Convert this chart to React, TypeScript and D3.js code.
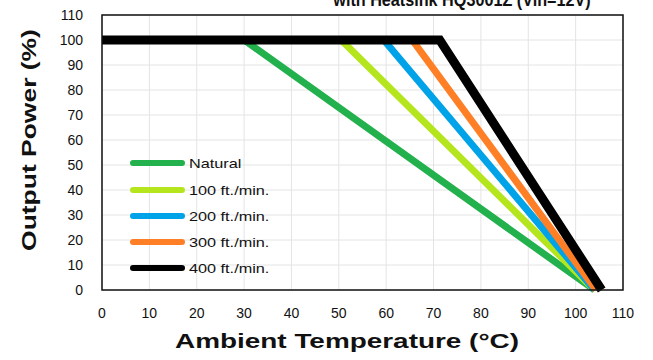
import React from "react";
import * as d3 from "d3";

const seriesNames = ["Natural", "100 ft./min.", "200 ft./min.", "300 ft./min.", "400 ft./min."];
const seriesColors = ["#22b14c", "#b5e61d", "#00a2e8", "#ff7f27", "#000000"];
// each series: [temperature, output power]
const naturalPts: [number, number][] = [[0, 100], [30, 100], [104, 0]];
const ft100Pts: [number, number][] = [[0, 100], [50.5, 100], [104, 0]];
const ft200Pts: [number, number][] = [[0, 100], [59.5, 100], [104, 0]];
const ft300Pts: [number, number][] = [[0, 100], [65.5, 100], [104.3, 0]];
const ft400Pts: [number, number][] = [[0, 100], [71.3, 100], [105.5, 0]];
const seriesData = [naturalPts, ft100Pts, ft200Pts, ft300Pts, ft400Pts];
const xTicks = [0, 10, 20, 30, 40, 50, 60, 70, 80, 90, 100, 110];
const yTicks = [0, 10, 20, 30, 40, 50, 60, 70, 80, 90, 100, 110];
const titleText = "with Heatsink HQ3001Z (Vin=12V)";
const xTitle = "Ambient Temperature (°C)";
const yTitle = "Output Power (%)";

export default function App() {
  const W = 653, H = 360;
  const left = 102, right = 623, top = 15, bottom = 290;
  const x = d3.scaleLinear().domain([0, 110]).range([left, right]);
  const y = d3.scaleLinear().domain([0, 110]).range([bottom, top]);
  const line = d3.line<[number, number]>().x(d => x(d[0])).y(d => y(d[1]));
  const font = "Arial, 'Liberation Sans', sans-serif";
  const widths = [7, 7, 7, 7, 9];
  const legendY = [163, 190, 216, 242, 268];
  return (
    <svg width={W} height={H} style={{ position: "absolute", left: 0, top: 0, background: "#fff" }} fontFamily={font}>
      <rect x={0} y={0} width={W} height={H} fill="#fff" />
      <text transform="translate(462,6) scale(0.9,1)" textAnchor="middle" fontSize={18} fontWeight="bold" fill="#111">{titleText}</text>
      {xTicks.map(t => (
        <line key={"gx" + t} x1={x(t)} x2={x(t)} y1={top} y2={bottom} stroke="#e4e4e4" strokeWidth={1} />
      ))}
      {yTicks.map(t => (
        <line key={"gy" + t} x1={left} x2={right} y1={y(t)} y2={y(t)} stroke="#e4e4e4" strokeWidth={1} />
      ))}
      {seriesData.map((d, i) => (
        <path key={"s" + i} d={line(d) || ""} fill="none" stroke={seriesColors[i]} strokeWidth={widths[i]} strokeLinejoin="miter" />
      ))}
      <rect x={left} y={top} width={right - left} height={bottom - top} fill="none" stroke="#111" strokeWidth={1.5} />
      {yTicks.map(t => (
        <text key={"ty" + t} x={83} y={y(t) + 5} textAnchor="end" fontSize={14} fill="#111">{t}</text>
      ))}
      {xTicks.map(t => (
        <text key={"tx" + t} x={x(t)} y={318} textAnchor="middle" fontSize={14} fill="#111">{t}</text>
      ))}
      <text transform="translate(347,348) scale(1.33,1)" textAnchor="middle" fontSize={21} fontWeight="bold" fill="#111">{xTitle}</text>
      <text transform="translate(36,140) rotate(-90) scale(1.26,1)" textAnchor="middle" fontSize={21} fontWeight="bold" fill="#111">{yTitle}</text>
      {seriesNames.map((n, i) => (
        <g key={"lg" + i}>
          <line x1={133} x2={182} y1={legendY[i]} y2={legendY[i]} stroke={seriesColors[i]} strokeWidth={6} strokeLinecap="round" />
          <text transform={`translate(189,${legendY[i] + 4.5}) scale(1.25,1)`} fontSize={13} fill="#111">{n}</text>
        </g>
      ))}
    </svg>
  );
}
